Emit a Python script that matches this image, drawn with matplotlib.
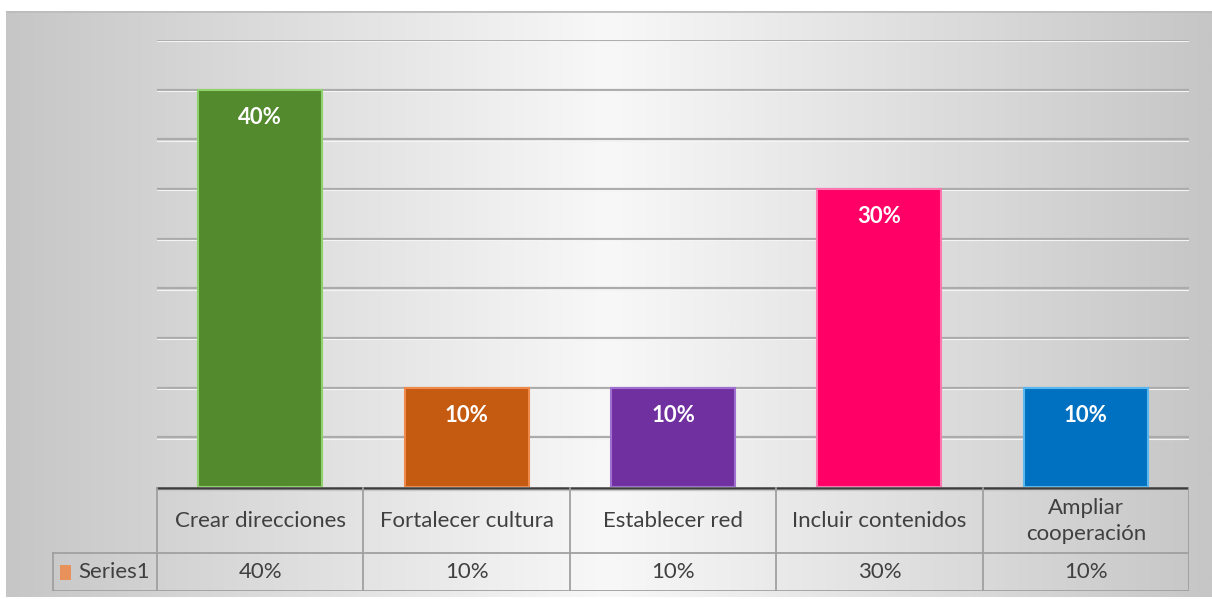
import numpy as np
import matplotlib
matplotlib.use("Agg")
import matplotlib.pyplot as plt
from matplotlib.colors import LinearSegmentedColormap

categories = ["Crear direcciones", "Fortalecer cultura", "Establecer red",
              "Incluir contenidos", "Ampliar\ncooperación"]
values = [0.40, 0.10, 0.10, 0.30, 0.10]
value_labels = ["40%", "10%", "10%", "30%", "10%"]
series_name = "Series1"
bar_colors = ["#548a2e", "#c55a11", "#7030a0", "#ff0066", "#0070c0"]
edge_colors = ["#8fd16a", "#f08a4a", "#a070d0", "#ff77b0", "#5ab8f0"]

W, H = 1212, 599
fig = plt.figure(figsize=(W / 100, H / 100), dpi=100)
fig.patch.set_facecolor("white")

def fx(px):
    return px / W

def fy(py):
    return 1 - py / H

font = "Lato"
txt_color = "#404040"

# chart area background: grey at the edges fading to white in the middle
bg = fig.add_axes([fx(6), fy(597), fx(1212 - 6), (597 - 11) / H])
cmap = LinearSegmentedColormap.from_list(
    "bg", [(0.0, "#c6c6c6"), (0.5, "#f8f8f8"), (1.0, "#c6c6c6")])
grad = np.linspace(0, 1, 512)[None, :]
bg.imshow(grad, aspect="auto", cmap=cmap, extent=[0, 1, 0, 1])
bg.axhline(1, color="#bdbdbd", lw=2)
bg.set_axis_off()

# plot area
x0, x1 = 157, 1189
ytop, ybase = 40, 487
ax = fig.add_axes([fx(x0), fy(ybase), (x1 - x0) / W, (ybase - ytop) / H])
ax.set_facecolor("none")
ax.set_xlim(-0.5, len(categories) - 0.5)
ax.set_ylim(0, 0.45)
for g in np.arange(0.05, 0.451, 0.05):
    ax.axhline(g, color="#ababab", lw=1.6, zorder=1)
    ax.axhline(g - 0.0012, color="#f4f4f4", lw=0.8, zorder=1)

xs = np.arange(len(categories))
ax.bar(xs, values, width=0.6, color=bar_colors, edgecolor=edge_colors,
       linewidth=1.5, zorder=3)
for x, v, lab in zip(xs, values, value_labels):
    ax.annotate(lab, (x, v), xytext=(0, -20), textcoords="offset points",
                ha="center", va="center", color="white", fontsize=16,
                fontweight="bold", family=font, zorder=4)
ax.set_xticks([])
ax.set_yticks([])
for s in ax.spines.values():
    s.set_visible(False)

# data table under the plot
tleft, tbottom = 52, 591
unit = (x1 - x0) / len(categories)
tb = fig.add_axes([fx(tleft), fy(tbottom), (x1 - tleft) / W, (tbottom - ybase) / H])
tb.set_facecolor("none")
left_x = -0.5 - (x0 - tleft) / unit
tb.set_xlim(left_x, len(categories) - 0.5)
tb.set_ylim(tbottom - ybase, 0)
tb.set_axis_off()

grid_c = "#a0a0a0"
row_split = 553 - ybase
bottom = tbottom - ybase
tb.plot([-0.5, len(categories) - 0.5], [0.5, 0.5], color="#3c3c3c", lw=1.8)
tb.plot([-0.5, len(categories) - 0.5], [2.5, 2.5], color="#c8c8c8", lw=1.0)
for b in np.arange(-0.5, len(categories), 1.0):
    tb.plot([b, b], [0.5, bottom], color=grid_c, lw=1.3)
tb.plot([left_x, len(categories) - 0.5], [row_split, row_split], color=grid_c, lw=1.3)
tb.plot([left_x, len(categories) - 0.5], [bottom, bottom], color=grid_c, lw=1.3)
tb.plot([left_x + 0.005, left_x + 0.005], [row_split, bottom], color=grid_c, lw=1.3)

for x, cat, lab in zip(xs, categories, value_labels):
    tb.text(x, row_split / 2 + 1, cat, ha="center", va="center", fontsize=16,
            color=txt_color, family=font, linespacing=1.35)
    tb.text(x, (row_split + bottom) / 2, lab, ha="center", va="center",
            fontsize=16, color=txt_color, family=font)

# legend key and series name
tb.add_patch(plt.Rectangle((left_x + 8 / unit, row_split + 12), 11 / unit, 15,
                           facecolor="#e8915a", edgecolor="none"))
tb.text(left_x + 26 / unit, (row_split + bottom) / 2, series_name,
        ha="left", va="center", fontsize=16, color=txt_color, family=font)

fig.savefig("out.png", dpi=100)
